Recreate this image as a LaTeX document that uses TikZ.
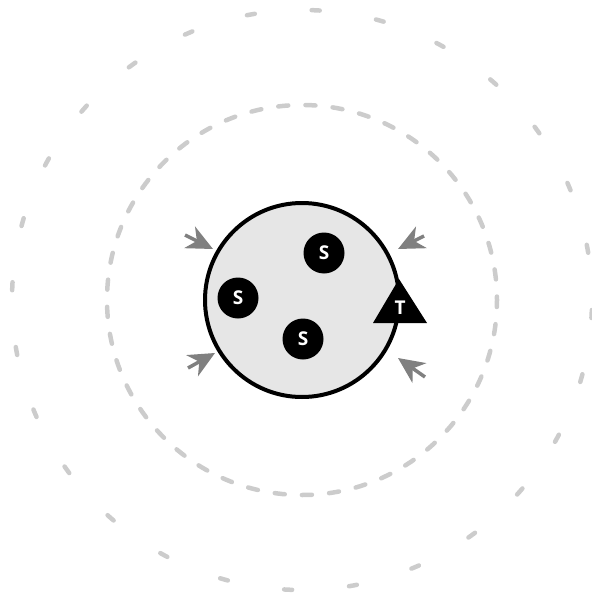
\documentclass[tikz,border=0pt]{standalone}
\usepackage{fontspec}
\setsansfont{Open Sans}
\usetikzlibrary{arrows.meta}
\definecolor{dashgray}{HTML}{CCCCCC}
\definecolor{cellfill}{HTML}{E6E6E6}
\definecolor{arrgray}{HTML}{808080}
\tikzset{
  ring/.style={draw=dashgray, line width=4.5pt, line cap=round},
  lbl/.style={text=white, font=\sffamily\bfseries\fontsize{19}{19}\selectfont},
  sball/.style={circle, fill=black, minimum size=41pt, inner sep=0pt, lbl},
  push/.style={draw=arrgray, line width=3.5pt, -{Stealth[length=26pt,width=24pt,inset=8pt]}, arrgray}
}
\begin{document}
\begin{tikzpicture}[x=1pt,y=-1pt]
\useasboundingbox (0,0) rectangle (591,599);
\coordinate (c) at (302,300);
% outer dashed ring
\draw[ring, dash pattern=on 8pt off 57.07pt, dash phase=-10pt] (c) circle[radius=290];
% middle dashed ring
\draw[ring, dash pattern=on 10pt off 17.22pt, dash phase=3pt] (c) circle[radius=195];
% cell
\draw[fill=cellfill, line width=4pt] (c) circle[radius=97];
% S balls
\node[sball] (s1) at (324,253) {S};
\node[sball] (s2) at (238,298) {S};
\node[sball] (s3) at (303,339) {S};
% T triangle
\fill (399,279) -- (427,323) -- (373,323) -- cycle;
\node[lbl] (t) at (400,308) {T};
% arrows
\coordinate (a1s) at (185,235); \coordinate (a1e) at (213,249);
\coordinate (a2s) at (424,236); \coordinate (a2e) at (398,249);
\coordinate (a3s) at (188,368); \coordinate (a3e) at (215,353);
\coordinate (a4s) at (425,377); \coordinate (a4e) at (398,358);
\draw[push] (a1s) -- (a1e);
\draw[push] (a2s) -- (a2e);
\draw[push] (a3s) -- (a3e);
\draw[push] (a4s) -- (a4e);
\end{tikzpicture}
\end{document}
